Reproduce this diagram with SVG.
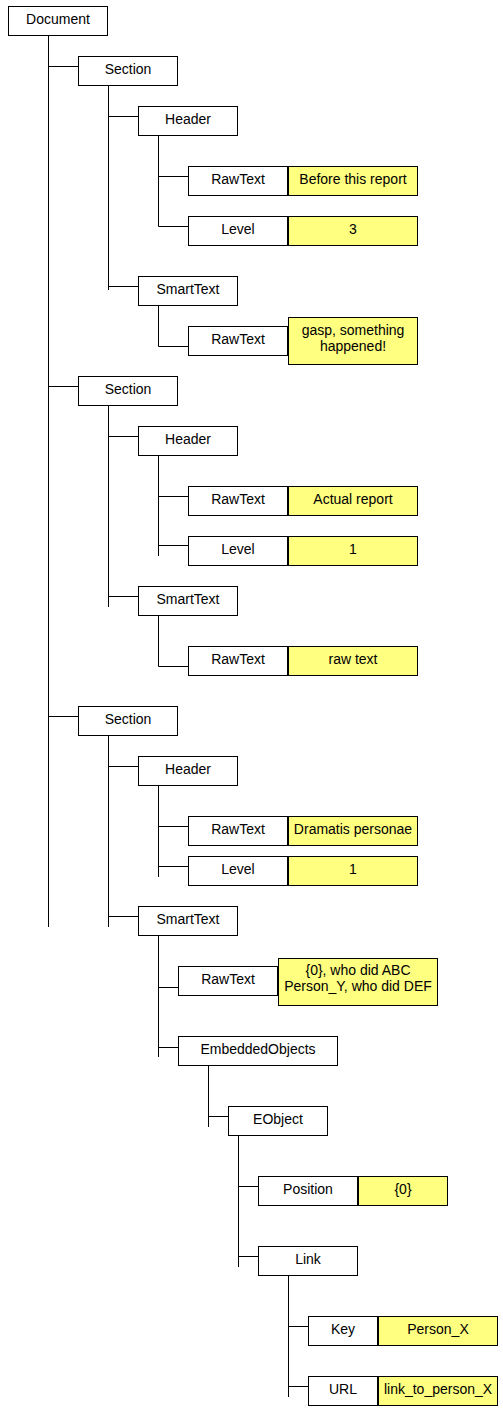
<svg xmlns="http://www.w3.org/2000/svg" width="503" height="1417" viewBox="0 0 503 1417">
<style>
.b{fill:#ffffff;stroke:#000000;stroke-width:1}
.v{fill:#ffff80;stroke:#000000;stroke-width:1}
.t{font-family:"Liberation Sans",Arial,sans-serif;font-size:14px;fill:#000000;text-anchor:middle}
.c{fill:none;stroke:#000000;stroke-width:1}
</style>
<rect x="0" y="0" width="503" height="1417" fill="#ffffff"/>
<g id="connectors" class="c">
<path d="M48.5 35V927M48.5 66.5H78M48.5 386.5H78M48.5 716.5H78"/>
<path d="M108.5 86V290M108.5 116.5H138M108.5 286.5H138"/>
<path d="M158.5 136V226.5M158.5 176.5H188M158.5 226.5H188"/>
<path d="M158.5 306V346.5H188"/>
<path d="M108.5 406V607M108.5 436.5H138M108.5 596.5H138"/>
<path d="M158.5 456V556M158.5 496.5H188M158.5 545.5H188"/>
<path d="M158.5 616V666.5H188"/>
<path d="M108.5 736V927M108.5 766.5H138M108.5 916.5H138"/>
<path d="M158.5 786V877M158.5 826.5H188M158.5 866.5H188"/>
<path d="M158.5 936V1057M158.5 987.5H178M158.5 1047.5H178"/>
<path d="M208.5 1066V1127M208.5 1116.5H228"/>
<path d="M238.5 1136V1267M238.5 1186.5H258M238.5 1256.5H258"/>
<path d="M288.5 1276V1397M288.5 1326.5H308M288.5 1386.5H308"/>
</g>
<g id="document"><rect class="b" x="8.5" y="6.5" width="99" height="29"/><text class="t" x="58" y="24">Document</text></g>
<g id="section1"><rect class="b" x="78.5" y="56.5" width="99" height="29"/><text class="t" x="128" y="74">Section</text></g>
<g id="header1"><rect class="b" x="138.5" y="106.5" width="99" height="29"/><text class="t" x="188" y="124">Header</text></g>
<g id="rawtext1"><rect class="b" x="188.5" y="166.5" width="99" height="29"/><text class="t" x="238" y="184">RawText</text><rect class="v" x="288.5" y="166.5" width="129" height="29"/><text class="t" x="353" y="184">Before this report</text></g>
<g id="level1"><rect class="b" x="188.5" y="216.5" width="99" height="29"/><text class="t" x="238" y="234">Level</text><rect class="v" x="288.5" y="216.5" width="129" height="29"/><text class="t" x="353" y="234">3</text></g>
<g id="smarttext1"><rect class="b" x="138.5" y="276.5" width="99" height="29"/><text class="t" x="188" y="294">SmartText</text></g>
<g id="rawtext1b"><rect class="b" x="188.5" y="326.5" width="99" height="29"/><text class="t" x="238" y="344">RawText</text><rect class="v" x="288.5" y="317.5" width="129" height="47"/><text class="t" x="353" y="335">gasp, something</text><text class="t" x="353" y="351">happened!</text></g>
<g id="section2"><rect class="b" x="78.5" y="376.5" width="99" height="29"/><text class="t" x="128" y="394">Section</text></g>
<g id="header2"><rect class="b" x="138.5" y="426.5" width="99" height="29"/><text class="t" x="188" y="444">Header</text></g>
<g id="rawtext2"><rect class="b" x="188.5" y="486.5" width="99" height="29"/><text class="t" x="238" y="504">RawText</text><rect class="v" x="288.5" y="486.5" width="129" height="29"/><text class="t" x="353" y="504">Actual report</text></g>
<g id="level2"><rect class="b" x="188.5" y="536.5" width="99" height="29"/><text class="t" x="238" y="554">Level</text><rect class="v" x="288.5" y="536.5" width="129" height="29"/><text class="t" x="353" y="554">1</text></g>
<g id="smarttext2"><rect class="b" x="138.5" y="586.5" width="99" height="29"/><text class="t" x="188" y="604">SmartText</text></g>
<g id="rawtext2b"><rect class="b" x="188.5" y="646.5" width="99" height="29"/><text class="t" x="238" y="664">RawText</text><rect class="v" x="288.5" y="646.5" width="129" height="29"/><text class="t" x="353" y="664">raw text</text></g>
<g id="section3"><rect class="b" x="78.5" y="706.5" width="99" height="29"/><text class="t" x="128" y="724">Section</text></g>
<g id="header3"><rect class="b" x="138.5" y="756.5" width="99" height="29"/><text class="t" x="188" y="774">Header</text></g>
<g id="rawtext3"><rect class="b" x="188.5" y="816.5" width="99" height="29"/><text class="t" x="238" y="834">RawText</text><rect class="v" x="288.5" y="816.5" width="129" height="29"/><text class="t" x="353" y="834">Dramatis personae</text></g>
<g id="level3"><rect class="b" x="188.5" y="856.5" width="99" height="29"/><text class="t" x="238" y="874">Level</text><rect class="v" x="288.5" y="856.5" width="129" height="29"/><text class="t" x="353" y="874">1</text></g>
<g id="smarttext3"><rect class="b" x="138.5" y="906.5" width="99" height="29"/><text class="t" x="188" y="924">SmartText</text></g>
<g id="rawtext4"><rect class="b" x="178.5" y="966.5" width="99" height="29"/><text class="t" x="228" y="984">RawText</text><rect class="v" x="278.5" y="958.5" width="159" height="47"/><text class="t" x="358" y="975">{0}, who did ABC</text><text class="t" x="358" y="991">Person_Y, who did DEF</text></g>
<g id="embeddedobjects"><rect class="b" x="178.5" y="1036.5" width="159" height="29"/><text class="t" x="258" y="1054">EmbeddedObjects</text></g>
<g id="eobject"><rect class="b" x="228.5" y="1106.5" width="99" height="29"/><text class="t" x="278" y="1124">EObject</text></g>
<g id="position"><rect class="b" x="258.5" y="1176.5" width="99" height="29"/><text class="t" x="308" y="1194">Position</text><rect class="v" x="358.5" y="1176.5" width="89" height="29"/><text class="t" x="403" y="1194">{0}</text></g>
<g id="link"><rect class="b" x="258.5" y="1246.5" width="99" height="29"/><text class="t" x="308" y="1264">Link</text></g>
<g id="key"><rect class="b" x="308.5" y="1316.5" width="69" height="29"/><text class="t" x="343" y="1334">Key</text><rect class="v" x="378.5" y="1316.5" width="119" height="29"/><text class="t" x="438" y="1334">Person_X</text></g>
<g id="url"><rect class="b" x="308.5" y="1376.5" width="69" height="29"/><text class="t" x="343" y="1394">URL</text><rect class="v" x="378.5" y="1376.5" width="119" height="29"/><text class="t" x="438" y="1394">link_to_person_X</text></g>
</svg>
